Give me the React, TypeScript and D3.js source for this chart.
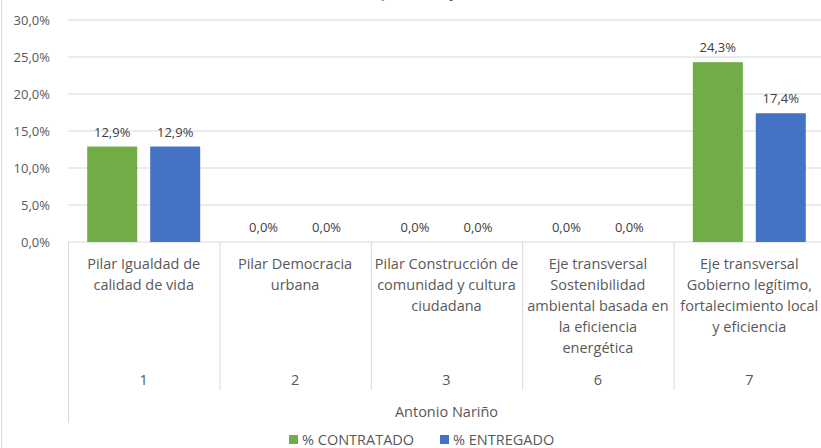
import { useEffect, useRef } from 'react';
import * as d3 from 'd3';

const codes = ['1', '2', '3', '6', '7'];
const pillarLines = [
  ['Pilar Igualdad de', 'calidad de vida'],
  ['Pilar Democracia', 'urbana'],
  ['Pilar Construcción de', 'comunidad y cultura', 'ciudadana'],
  ['Eje transversal', 'Sostenibilidad', 'ambiental basada en', 'la eficiencia', 'energética'],
  ['Eje transversal', 'Gobierno legítimo,', 'fortalecimiento local', 'y eficiencia'],
];
const contratado = [12.9, 0, 0, 0, 24.3];
const entregado = [12.9, 0, 0, 0, 17.4];
const seriesNames = ['% CONTRATADO', '% ENTREGADO'];
const yTicks = [0, 5, 10, 15, 20, 25, 30];
const locality = 'Antonio Nariño';
const title = 'Avance por Área y Localidad';

export default function App() {
  const containerRef = useRef<HTMLDivElement>(null);

  useEffect(() => {
    if (!containerRef.current) return;
    d3.select(containerRef.current).selectAll('*').remove();

    const width = 821;
    const height = 448;
    const font = 'Open Sans, Noto Sans, sans-serif';
    const textColor = '#595959';
    const lineColor = '#d9d9d9';
    const colors = ['#70ad47', '#4472c4'];

    const svg = d3
      .select(containerRef.current)
      .append('svg')
      .attr('width', width)
      .attr('height', height)
      .style('position', 'absolute')
      .style('left', '0px')
      .style('top', '0px')
      .style('background', '#fff');

    // chart border on the left
    svg.append('line')
      .attr('x1', 1.5).attr('x2', 1.5).attr('y1', 0).attr('y2', height)
      .attr('stroke', lineColor).attr('stroke-width', 1);

    // title (cut off at the top, as in the source)
    svg.append('text')
      .attr('x', 428)
      .attr('y', -3)
      .attr('text-anchor', 'middle')
      .attr('font-family', font)
      .attr('font-size', '16px')
      .attr('fill', textColor)
      .text(title);

    const plotLeft = 68;
    const plotRight = 825;
    const yScale = d3.scaleLinear().domain([0, 30]).range([242, 20]);
    const xScale = d3.scaleBand().domain(codes).range([plotLeft, plotRight]);
    const xInner = d3
      .scaleBand()
      .domain(seriesNames)
      .range([0, xScale.bandwidth()])
      .paddingInner(0.206)
      .paddingOuter(0.305);

    const fmt = (v: number) => v.toFixed(1).replace('.', ',') + '%';

    // grid + y labels
    yTicks.forEach((t) => {
      svg.append('line')
        .attr('x1', plotLeft).attr('x2', plotRight)
        .attr('y1', yScale(t)).attr('y2', yScale(t))
        .attr('stroke', lineColor).attr('stroke-width', 1);
      svg.append('text')
        .attr('x', 50)
        .attr('y', yScale(t))
        .attr('dy', '0.35em')
        .attr('text-anchor', 'end')
        .attr('font-family', font)
        .attr('font-size', '13px')
        .attr('fill', textColor)
        .text(fmt(t));
    });

    // bars
    const series = [contratado, entregado];
    series.forEach((vals, si) => {
      codes.forEach((c, i) => {
        const x = xScale(c)! + xInner(seriesNames[si])!;
        const y = yScale(vals[i]);
        svg.append('rect')
          .attr('x', x)
          .attr('y', y)
          .attr('width', xInner.bandwidth())
          .attr('height', yScale(0) - y)
          .attr('fill', colors[si]);
        svg.append('text')
          .attr('x', x + xInner.bandwidth() / 2)
          .attr('y', y - 10)
          .attr('text-anchor', 'middle')
          .attr('font-family', font)
          .attr('font-size', '13px')
          .attr('fill', '#404040')
          .text(fmt(vals[i]));
      });
    });

    // multi-level axis separators
    const boundaries = codes.map((c) => xScale(c)!).concat([plotRight]);
    boundaries.forEach((b, i) => {
      svg.append('line')
        .attr('x1', b + 0.5).attr('x2', b + 0.5)
        .attr('y1', yScale(0)).attr('y2', i === 0 ? 423 : 390)
        .attr('stroke', lineColor).attr('stroke-width', 1);
    });

    codes.forEach((c, i) => {
      const cx = xScale(c)! + xScale.bandwidth() / 2;
      pillarLines[i].forEach((ln, li) => {
        svg.append('text')
          .attr('x', cx)
          .attr('y', 269 + li * 21)
          .attr('text-anchor', 'middle')
          .attr('font-family', font)
          .attr('font-size', '14.5px')
          .attr('fill', textColor)
          .text(ln);
      });
      svg.append('text')
        .attr('x', cx)
        .attr('y', 385)
        .attr('text-anchor', 'middle')
        .attr('font-family', font)
        .attr('font-size', '14.5px')
        .attr('fill', textColor)
        .text(c);
    });

    svg.append('text')
      .attr('x', (plotLeft + plotRight) / 2)
      .attr('y', 417)
      .attr('text-anchor', 'middle')
      .attr('font-family', font)
      .attr('font-size', '14.5px')
      .attr('fill', textColor)
      .text(locality);

    // legend
    const legendX = [289, 440];
    seriesNames.forEach((name, si) => {
      const g = svg.append('g').attr('transform', `translate(${legendX[si]}, 435)`);
      g.append('rect').attr('width', 9).attr('height', 9).attr('fill', colors[si]);
      g.append('text')
        .attr('x', 13)
        .attr('y', 10)
        .attr('font-family', font)
        .attr('font-size', '14.5px')
        .attr('fill', textColor)
        .text(name);
    });
  }, []);

  return <div ref={containerRef}></div>;
}
